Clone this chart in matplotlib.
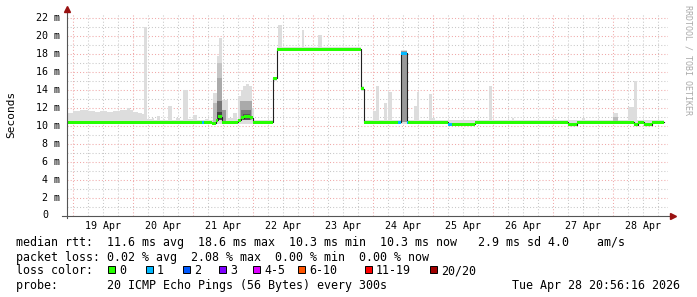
import numpy as np
import matplotlib
matplotlib.use('Agg')
from matplotlib import pyplot as plt
from matplotlib.patches import Rectangle
from matplotlib.transforms import blended_transform_factory

# time axis: hours since 19 Apr 00:00
day_labels = ['19 Apr', '20 Apr', '21 Apr', '22 Apr', '23 Apr',
              '24 Apr', '25 Apr', '26 Apr', '27 Apr', '28 Apr']
y_ticks = [0, 2, 4, 6, 8, 10, 12, 14, 16, 18, 20, 22]
data_end = 236.4

# light smoke (min..max of the pings), start hour, low and top in ms
smoke_start = [-2.4, 0, 2.8, 6.0, 8.8, 10.8, 13.6, 16.0, 18.8, 21.6, 22.8, 24.0,
               26.0, 27.6, 28.4, 29.6, 31.6, 32.4, 33.6, 34.8, 36.0, 36.8, 38.0,
               39.6, 41.2, 42.8, 44.0, 46.0, 48.0, 49.6, 52.8, 54.4, 56.0, 57.6,
               58.4, 59.6, 62.0, 64.0, 65.6, 66.0, 67.2, 68.0, 69.2, 70.4, 71.6,
               72.4, 80.0, 81.6, 82.0, 83.6, 91.6, 92.4, 98.0, 99.6, 115.2, 116.4,
               120.0, 121.2, 122.4, 124.4, 125.6, 126.0, 127.6, 131.2, 133.6,
               136.4, 137.6, 138.4, 142.4, 143.6, 144.8, 166.4, 167.6, 175.6,
               176.4, 192.0, 193.6, 203.6, 204.8, 216.0, 218.0, 222.0, 224.4, 225.6]
smoke_top = [11.4, 11.7, 11.8, 11.7, 11.6, 11.7, 11.6, 11.7, 11.8, 12.0, 11.8, 11.5,
             11.4, 11.3, 21.0, 10.8, 10.9, 10.6, 11.1, 10.6, 10.8, 10.6, 12.2,
             10.6, 10.9, 10.6, 14.0, 10.8, 11.2, 10.6, 10.8, 10.6, 13.7, 17.8,
             19.8, 12.9, 10.9, 11.4, 10.8, 13.3, 14.0, 14.4, 14.7, 14.4, 12.0,
             10.7, 15.5, 18.8, 21.3, 18.8, 20.7, 18.8, 20.1, 18.8, 14.4, 10.6,
             11.7, 14.4, 10.6, 12.5, 10.6, 13.8, 10.6, 18.5, 10.6,
             12.2, 13.8, 10.6, 13.5, 10.9, 10.6, 14.45, 10.6, 10.9,
             10.6, 10.8, 10.6, 10.9, 10.6, 11.4, 10.6, 12.1, 15.0, 10.6]
smoke_low = [10.2] * 46 + [15.0] + [18.3] * 7 + [13.9] + [10.2] * 29

# darker smoke layers: start, end, bottom, top, shade
smoke_dark = [
    (56.0, 57.6, 10.3, 12.5, '#bbbbbb'),
    (57.6, 59.6, 10.6, 17.0, '#c4c4c4'),
    (57.6, 59.6, 10.6, 15.3, '#aaaaaa'),
    (57.6, 59.6, 10.6, 12.8, '#777777'),
    (57.6, 59.6, 10.6, 11.5, '#444444'),
    (59.6, 61.2, 10.3, 11.8, '#999999'),
    (66.8, 71.6, 10.6, 12.8, '#aaaaaa'),
    (67.2, 71.2, 10.6, 11.8, '#777777'),
    (68.0, 70.8, 10.6, 11.3, '#555555'),
    (131.2, 133.6, 10.4, 18.3, '#999999'),
    (216.0, 218.0, 10.4, 11.0, '#bbbbbb'),
]

# median rtt (ms) as steps, with loss class of each step
med_start = [-2.4, 51.6, 52.4, 55.6, 57.2, 58.0, 59.6, 66.0, 67.2, 68.4, 70.8, 72.0,
             80.0, 81.6, 115.2, 116.4, 130.0, 131.2, 133.6, 134.0, 150.0, 151.6,
             160.8, 198.0, 201.6, 224.4, 226.0, 228.4, 231.6]
med_val = [10.4, 10.4, 10.4, 10.3, 10.6, 11.0, 10.4, 10.6, 10.9, 11.0, 10.9, 10.4,
           15.3, 18.55, 14.15, 10.4, 10.4, 18.1, 10.4, 10.4, 10.2, 10.2,
           10.4, 10.1, 10.4, 10.1, 10.4, 10.1, 10.4]
med_loss = [0, 1, 0, 0, 0, 0, 0, 0, 0, 0, 0, 0,
            0, 0, 0, 0, 1, 1, 1, 0, 1, 0,
            0, 0, 0, 0, 0, 0, 0]

loss_labels = ['0', '1', '2', '3', '4-5', '6-10', '11-19', '20/20']
loss_colors = ['#26ff00', '#00b8ff', '#0059ff', '#7e00ff', '#dd00ff',
               '#ff5500', '#ff0000', '#a00000']
loss_box_x = [108, 146, 183, 219, 253, 298, 365, 430]

W, H = 697, 297
MONO = 'DejaVu Sans Mono'
plt.rcParams['font.family'] = MONO

fig = plt.figure(figsize=(W / 100, H / 100), dpi=100)
ax = fig.add_axes([67 / W, (H - 215.5) / H, 601 / W, 202.5 / H])
ax.set_xlim(-2.4, 238.0)
ax.set_ylim(0, 202.5 / 8.964)
for s in ax.spines.values():
    s.set_visible(False)

# grid
for h in range(0, 239, 6):
    if h % 24 == 0:
        ax.axvline(h, color='#f0a8a8', lw=0.75, ls=(0, (1, 2)), zorder=1)
    else:
        ax.axvline(h, color='#c8c8c8', lw=0.75, ls=(0, (1, 2)), zorder=1)
for v in range(1, 23):
    if v % 2 == 0:
        ax.axhline(v, color='#f0a8a8', lw=0.75, ls=(0, (1, 2)), zorder=1)
    else:
        ax.axhline(v, color='#c8c8c8', lw=0.75, ls=(0, (1, 2)), zorder=1)

# smoke
ends = smoke_start[1:] + [data_end]
widths = np.array(ends) - np.array(smoke_start)
ax.bar(smoke_start, np.array(smoke_top) - np.array(smoke_low), width=widths,
       bottom=smoke_low, align='edge', color='#dddddd', lw=0, antialiased=False, zorder=2)
for t0, t1, b, t, c in smoke_dark:
    ax.bar(t0, t - b, width=t1 - t0, bottom=b, align='edge', color=c, lw=0,
           antialiased=False, zorder=2)

# median line
mt = med_start + [data_end]
mv = med_val + [med_val[-1]]
ax.step(mt, mv, where='post', color='#202020', lw=0.8, zorder=3)
med_end = med_start[1:] + [data_end]
for t0, t1, v, l in zip(med_start, med_end, med_val, med_loss):
    ax.bar(t0, 0.34, width=t1 - t0, bottom=v - 0.17, align='edge',
           color=loss_colors[l], lw=0, antialiased=False, zorder=4)

# axes with arrows
ax.plot([0, 0], [-2.5 / 202.5, 1.02], transform=ax.transAxes, color='#555555',
        lw=0.8, clip_on=False, zorder=5)
ax.plot([-5 / 601, 1.008], [0, 0], transform=ax.transAxes, color='#555555',
        lw=0.8, clip_on=False, zorder=5)
ax.plot([0], [1.02], marker='^', ms=4, color='#991111', transform=ax.transAxes,
        clip_on=False, zorder=6)
ax.plot([1.008], [0], marker='>', ms=4, color='#991111', transform=ax.transAxes,
        clip_on=False, zorder=6)

# ticks
ax.set_xticks([12 + 24 * i for i in range(len(day_labels))])
ax.set_xticklabels(day_labels, fontsize=7.2, family=MONO)
ax.tick_params(axis='x', length=0, pad=4)
ax.set_yticks([])
tr = blended_transform_factory(ax.transAxes, ax.transData)
for v in y_ticks:
    if v == 0:
        ax.text(-19 / 601, v, '0', transform=tr, ha='right', va='center',
                fontsize=7.2, family=MONO)
    else:
        ax.text(-7 / 601, v, f'{v} m', transform=tr, ha='right', va='center',
                fontsize=7.2, family=MONO)

fig.text(11 / W, 1 - 114 / H, 'Seconds', rotation=90, ha='center', va='center',
         fontsize=8, family=MONO)
fig.text(688 / W, 1 - 60 / H, 'RRDTOOL / TOBI OETIKER', rotation=270, ha='center',
         va='center', fontsize=6, color='#aaaaaa', family=MONO)

# legend rows
fs = 8.4
x0 = 16.5 / W
fig.text(x0, 1 - 241 / H, 'median rtt:  11.6 ms avg  18.6 ms max  10.3 ms min  '
         '10.3 ms now   2.9 ms sd 4.0    am/s', fontsize=fs, va='center_baseline', family=MONO)
fig.text(x0, 1 - 256 / H, 'packet loss: 0.02 % avg  2.08 % max  0.00 % min  0.00 % now',
         fontsize=fs, va='center_baseline', family=MONO)
fig.text(x0, 1 - 269 / H, 'loss color:', fontsize=fs, va='center_baseline', family=MONO)
for bx, lab, col in zip(loss_box_x, loss_labels, loss_colors):
    fig.patches.append(Rectangle((bx / W, 1 - 272.5 / H), 7 / W, 7 / H, facecolor=col,
                                 edgecolor='black', lw=0.7, transform=fig.transFigure,
                                 figure=fig))
    fig.text((bx + 11) / W, 1 - 269 / H, lab, fontsize=fs, va='center_baseline', family=MONO)
fig.text(x0, 1 - 284 / H, 'probe:       20 ICMP Echo Pings (56 Bytes) every 300s',
         fontsize=fs, va='center_baseline', family=MONO)
fig.text(680 / W, 1 - 284 / H, 'Tue Apr 28 20:56:16 2026', fontsize=fs, ha='right',
         va='center_baseline', family=MONO)

fig.savefig('out.png', dpi=100)
